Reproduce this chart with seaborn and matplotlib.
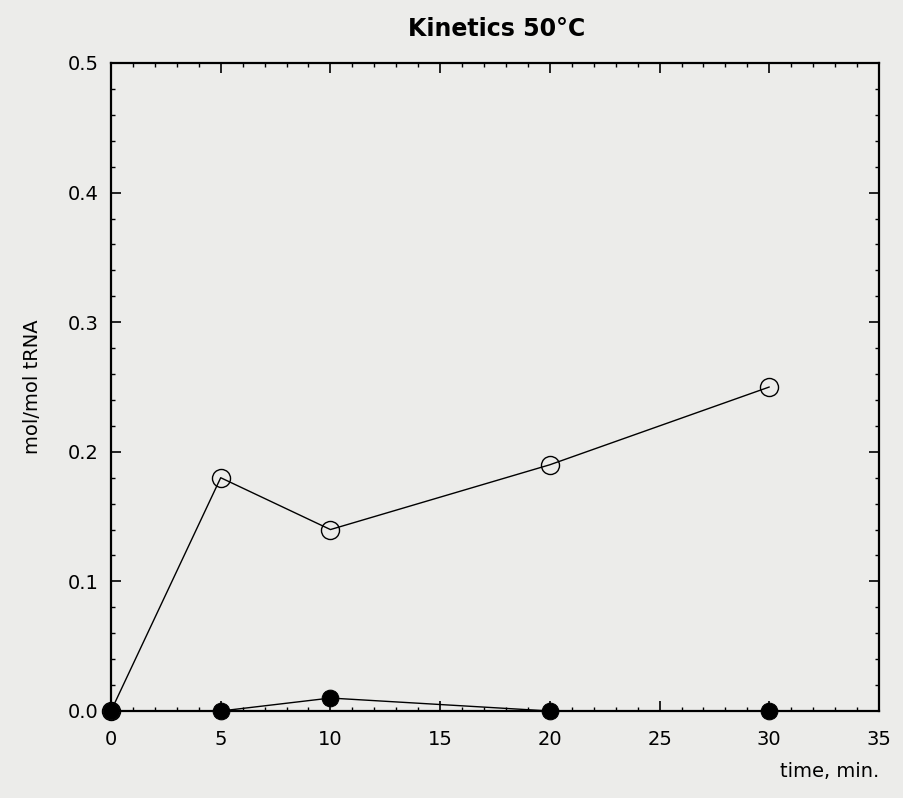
import matplotlib
matplotlib.use("Agg")
import matplotlib.pyplot as plt
from matplotlib.ticker import MultipleLocator
import pandas as pd
import seaborn as sns

# values
time_min = [0, 5, 10, 20, 30]
open_series = [0.0, 0.18, 0.14, 0.19, 0.25]
filled_series = [0.0, 0.0, 0.01, 0.0, 0.0]

df = pd.DataFrame({"time": time_min, "open": open_series, "filled": filled_series})

sns.set_style("ticks")
plt.rcParams["font.family"] = ["DejaVu Sans"]
plt.rcParams["text.color"] = "black"
plt.rcParams["axes.labelcolor"] = "black"
plt.rcParams["xtick.color"] = "black"
plt.rcParams["ytick.color"] = "black"

bg = "#ececea"
fig = plt.figure(figsize=(9.04, 7.98), dpi=100, facecolor=bg)
ax = fig.add_axes([111 / 904, 1 - 711 / 798, 768 / 904, 648 / 798])
ax.set_facecolor(bg)

sns.lineplot(
    data=df, x="time", y="open", ax=ax, color="black", linewidth=1.0,
    marker="o", markersize=13, markerfacecolor="none",
    markeredgecolor="black", markeredgewidth=1.0, clip_on=False,
)
sns.lineplot(
    data=df, x="time", y="filled", ax=ax, color="black", linewidth=1.0,
    marker="o", markersize=12, markerfacecolor="black",
    markeredgecolor="black", clip_on=False,
)

ax.set_xlim(0, 35)
ax.set_ylim(0, 0.5)
ax.xaxis.set_major_locator(MultipleLocator(5))
ax.xaxis.set_minor_locator(MultipleLocator(1))
ax.yaxis.set_minor_locator(MultipleLocator(0.02))
ax.set_yticks([0, 0.1, 0.2, 0.3, 0.4, 0.5])
ax.set_yticklabels(["0.0", "0.1", "0.2", "0.3", "0.4", "0.5"])

ax.tick_params(which="both", direction="in", top=True, right=True, color="black")
ax.tick_params(axis="x", which="major", length=7, width=1.2, pad=14, labelsize=14)
ax.tick_params(axis="y", which="major", length=7, width=1.2, pad=9, labelsize=14)
ax.tick_params(which="minor", length=3, width=1.0)
for s in ax.spines.values():
    s.set_linewidth(1.6)
    s.set_color("black")

ax.set_xlabel("time, min.", fontsize=14, loc="right", labelpad=9)
ax.set_ylabel("mol/mol tRNA", fontsize=14, labelpad=18)
fig.text(497 / 904, 1 - 29 / 798, "Kinetics 50°C", ha="center", va="center",
         fontsize=17, fontweight="bold")

fig.savefig("out.png", dpi=100, facecolor=bg)
